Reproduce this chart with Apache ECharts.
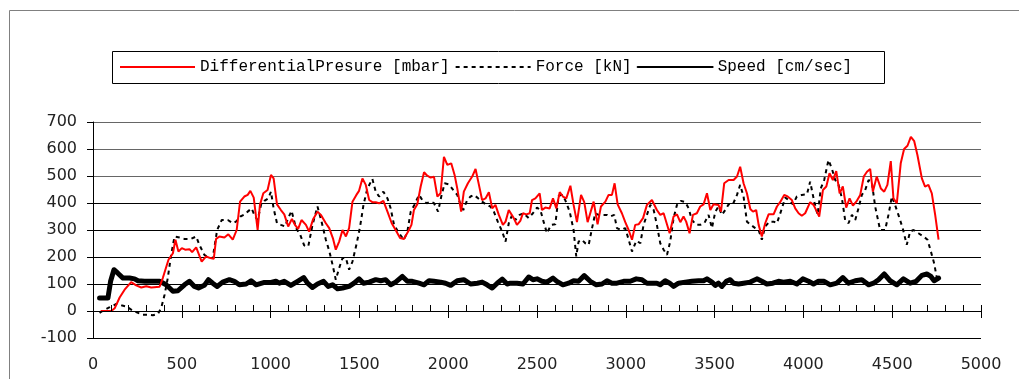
<!DOCTYPE html>
<html>
<head>
<meta charset="utf-8">
<script src="https://cdn.jsdelivr.net/npm/echarts@6/dist/echarts.min.js"></script>
<style>
  html, body { margin: 0; padding: 0; background: #fff; }
  #main { width: 1019px; height: 379px; }
</style>
</head>
<body>
<div id="main"></div>
<script>
var seriesNames = ['DifferentialPresure [mbar]', 'Force [kN]', 'Speed [cm/sec]'];

var dpX = [43,103,122,150,178,215,243,272,300,328,375,393,425,450,464,481,500,519,543,558,
  581,612,637,661,680,693,712,740,762,787,809,828,852,871,886,905,927,940,959,983,
  1002,1017,1036,1058,1077,1099,1120,1137,1155,1174,1199,1217,1240,1264,1283,1311,1330,1352,1367,1386,
  1405,1424,1442,1461,1483,1498,1517,1536,1555,1573,1592,1611,1635,1658,1682,1704,1729,1751,1779,1793,
  1807,1826,1845,1864,1882,1901,1920,1939,1957,1976,1995,2017,2036,2051,2073,2088,2111,2135,2154,2173,
  2191,2210,2229,2248,2266,2285,2308,2323,2341,2369,2387,2406,2421,2440,2459,2472,2491,2515,2528,2547,
  2571,2590,2609,2628,2646,2665,2688,2706,2725,2748,2766,2785,2819,2841,2860,2885,2903,2922,2937,2954,
  2978,2997,3016,3035,3053,3072,3097,3119,3147,3175,3194,3213,3247,3269,3288,3307,3325,3340,3359,3378,
  3400,3419,3438,3457,3476,3494,3522,3536,3554,3579,3607,3626,3644,3663,3682,3701,3716,3734,3748,3766,
  3785,3804,3832,3851,3869,3892,3911,3935,3954,3973,3991,4010,4038,4057,4076,4089,4110,4129,4147,4166,
  4185,4204,4222,4241,4260,4279,4301,4320,4340,4358,4376,4391,4413,4436,4455,4473,4492,4507,4526,4548,
  4567,4586,4605,4624,4642,4667,4685,4704,4723,4742,4761];
var dpY = [0,0,10,50,79,107,95,87,92,87,90,122,190,214,264,220,233,227,229,218,
  236,183,202,196,193,267,276,272,284,264,300,405,424,430,445,420,300,393,436,448,
  504,491,395,374,358,313,341,319,304,337,319,294,341,368,356,325,307,267,227,257,
  300,276,307,405,430,445,491,467,411,403,403,399,408,368,325,300,270,267,300,319,
  374,395,461,514,501,494,497,424,436,571,541,547,504,454,368,442,473,498,526,467,
  411,417,440,380,393,356,319,331,374,344,319,334,362,358,362,411,417,436,374,383,
  380,417,380,440,424,417,464,393,329,430,403,329,405,321,387,405,430,430,473,395,
  362,329,300,264,319,321,344,393,411,374,356,362,288,350,358,329,350,331,288,356,
  362,387,395,436,374,395,393,368,473,485,485,498,534,473,436,378,368,374,319,276,
  325,358,358,387,403,430,424,411,380,362,353,362,403,393,368,350,448,461,510,485,
  518,436,461,383,417,390,408,430,498,516,526,442,498,454,442,467,555,417,399,547,
  600,612,645,629,578,491,461,467,436,356,264];

var forceX = [37,66,94,131,159,187,215,243,281,309,337,365,384,403,421,440,459,487,515,552,
  581,599,627,656,674,699,725,759,787,805,830,849,871,893,912,927,946,965,987,1002,
  1017,1036,1058,1081,1099,1118,1143,1167,1189,1212,1236,1264,1287,1311,1330,1349,1367,1386,1405,1424,
  1442,1461,1485,1504,1523,1545,1573,1592,1611,1635,1658,1676,1695,1723,1751,1770,1789,1811,1836,1854,
  1879,1901,1920,1943,1961,1980,2004,2029,2051,2070,2085,2107,2126,2145,2164,2191,2215,2238,2257,2279,
  2304,2323,2341,2360,2378,2402,2425,2453,2477,2500,2519,2537,2556,2579,2603,2622,2641,2659,2684,2706,
  2721,2734,2753,2772,2791,2810,2828,2847,2871,2894,2913,2935,2950,2973,2997,3016,3035,3059,3082,3100,
  3119,3138,3157,3175,3194,3213,3232,3250,3269,3288,3310,3335,3354,3372,3397,3419,3442,3466,3485,3504,
  3522,3541,3560,3579,3603,3626,3644,3663,3682,3704,3729,3748,3766,3785,3809,3832,3851,3873,3898,3916,
  3941,3963,3991,4020,4038,4061,4080,4098,4117,4141,4160,4179,4198,4217,4235,4254,4273,4292,4310,4329,
  4348,4367,4385,4404,4432,4460,4479,4498,4516,4535,4559,4582,4601,4620,4648,4676,4699,4718,4736,4751];
var forceY = [-7,5,14,26,21,17,5,-4,-14,-14,-16,-11,11,60,122,208,276,272,267,267,
  276,245,208,196,196,300,337,337,325,331,350,356,368,380,350,337,393,408,417,442,
  380,325,319,313,344,371,307,282,243,239,319,387,331,264,223,171,116,159,196,196,
  153,183,251,313,393,454,489,442,424,442,417,380,319,288,264,294,368,395,430,411,
  399,405,399,368,424,473,469,448,430,393,374,411,424,430,420,405,393,387,368,331,
  294,257,325,356,337,356,362,344,362,383,374,331,288,319,321,427,430,411,368,300,
  202,257,264,251,245,307,362,356,356,356,350,356,307,300,307,264,220,260,251,319,
  356,393,374,319,251,227,208,257,344,393,408,403,380,337,319,319,325,356,307,368,
  387,356,374,395,395,430,467,424,331,319,307,300,264,313,331,331,325,368,420,411,
  395,424,430,432,479,405,356,454,485,559,528,485,467,417,337,325,356,337,380,430,
  448,485,479,387,300,300,356,424,393,356,307,245,294,300,288,276,264,220,177,124];

var speedX = [37,84,99,118,140,169,206,234,253,290,328,375,412,450,478,515,543,571,594,627,
  650,674,699,730,768,796,824,862,890,918,965,1002,1030,1049,1077,1114,1152,1186,1208,1236,
  1264,1298,1324,1349,1377,1405,1442,1470,1498,1523,1555,1592,1620,1648,1676,1704,1742,1770,1798,1836,
  1864,1892,1920,1957,1985,2014,2051,2088,2126,2164,2191,2219,2248,2276,2304,2332,2350,2387,2421,2453,
  2477,2500,2528,2556,2590,2612,2646,2678,2706,2734,2766,2800,2834,2866,2894,2922,2950,2988,3025,3059,
  3091,3119,3147,3175,3194,3222,3247,3269,3297,3335,3372,3410,3438,3457,3485,3504,3522,3541,3566,3588,
  3607,3635,3663,3701,3738,3766,3794,3828,3860,3888,3926,3963,3997,4029,4057,4085,4117,4151,4188,4222,
  4254,4292,4329,4367,4395,4423,4455,4488,4526,4563,4601,4635,4667,4695,4718,4736,4761];
var speedY = [48,48,110,153,140,122,122,119,112,110,110,110,97,73,75,97,110,91,85,95,
  116,103,91,107,116,110,97,100,112,97,106,106,110,103,110,95,110,124,103,87,
  100,110,91,97,82,85,91,103,119,103,107,116,112,116,97,107,128,110,110,103,
  97,112,110,107,103,95,112,116,100,103,107,97,85,103,118,100,103,103,100,126,
  116,119,110,107,122,110,97,103,112,110,131,110,97,100,112,103,103,110,110,119,
  116,103,103,103,97,112,103,91,103,107,110,112,112,119,107,95,103,91,110,116,
  103,100,103,107,119,110,100,103,110,107,110,100,119,110,100,110,110,97,103,124,
  103,112,116,97,103,116,137,112,97,119,103,110,132,137,128,112,122];

function pairs(xs, ys) {
  return xs.map(function (x, i) { return [x, ys[i]]; });
}

// plot area; a thin second grid sits just above the y = 0 line and carries the tick marks
var plotLeft = 93, plotRight = 38, plotTop = 122, plotBottom = 41;
var zeroY = 311;

var chart = echarts.init(document.getElementById('main'));
var option = {
  animation: false,
  backgroundColor: '#fff',
  graphic: [{
    type: 'rect',
    z: -10,
    shape: { x: 9.5, y: 10.5, width: 1100, height: 500 },
    style: { fill: 'none', stroke: '#808080', lineWidth: 1 },
    silent: true
  }, {
    type: 'rect',
    z: -10,
    shape: { x: 112.5, y: 51.5, width: 772, height: 32 },
    style: { fill: '#fff', stroke: '#000', lineWidth: 1 },
    silent: true
  }],
  legend: {
    data: seriesNames,
    left: 112,
    top: 51,
    orient: 'horizontal',
    itemWidth: 75,
    itemHeight: 14,
    itemGap: 5,
    padding: [8, 4, 8, 7],
    itemStyle: { opacity: 0 },
    textStyle: { fontFamily: 'Liberation Mono', fontSize: 16, color: '#000' }
  },
  grid: [
    { left: plotLeft, right: plotRight, top: plotTop, bottom: plotBottom },
    { left: plotLeft, right: plotRight, top: zeroY - 6, bottom: 379 - zeroY }
  ],
  xAxis: [{
    type: 'value',
    gridIndex: 0,
    z: 10,
    position: 'bottom',
    min: 0, max: 5000, interval: 500,
    axisLine: { show: true, onZero: true, lineStyle: { color: '#000', width: 1 } },
    axisTick: { show: true, inside: true, length: 6, lineStyle: { color: '#000', width: 1 } },
    minorTick: { show: true, splitNumber: 5, length: 5, lineStyle: { color: '#000', width: 1 } },
    axisLabel: {
      margin: 19, fontSize: 16, color: '#222', fontFamily: 'DejaVu Sans',
      formatter: function (v) { return String(v); }
    },
    splitLine: { show: false }
  }, {
    type: 'value',
    gridIndex: 1,
    z: 10,
    position: 'bottom',
    min: 0, max: 5000, interval: 500,
    axisLine: { show: false, onZero: false },
    axisTick: { show: true, inside: false, length: 7, lineStyle: { color: '#000', width: 1 } },
    axisLabel: { show: false },
    splitLine: { show: true, lineStyle: { color: '#000', width: 1 } },
    minorTick: { show: false, splitNumber: 5 },
    minorSplitLine: { show: true, lineStyle: { color: '#000', width: 1 } }
  }],
  yAxis: [{
    type: 'value',
    gridIndex: 0,
    min: -100, max: 700, interval: 100,
    axisLine: { show: true, onZero: false, lineStyle: { color: '#000', width: 1 } },
    axisTick: { show: true, inside: false, length: 6, lineStyle: { color: '#000' } },
    axisLabel: { margin: 16, fontSize: 16, color: '#222', fontFamily: 'DejaVu Sans' },
    splitLine: {
      show: true,
      lineStyle: {
        color: ['#000', '#000', '#000', '#000', '#000', '#000', '#666', '#666', '#666'],
        width: 1
      }
    }
  }, {
    type: 'value',
    gridIndex: 1,
    min: 0, max: 1,
    axisLine: { show: false, onZero: false },
    axisTick: { show: false },
    axisLabel: { show: false },
    splitLine: { show: false }
  }],
  series: [{
    name: seriesNames[0],
    type: 'line',
    xAxisIndex: 0,
    yAxisIndex: 0,
    data: pairs(dpX, dpY),
    symbol: 'none',
    z: 4,
    lineStyle: { color: '#ff0000', width: 2 },
    itemStyle: { color: '#ff0000' }
  }, {
    name: seriesNames[1],
    type: 'line',
    xAxisIndex: 0,
    yAxisIndex: 0,
    data: pairs(forceX, forceY),
    symbol: 'none',
    z: 3,
    lineStyle: { color: '#000', width: 2, type: [4, 4] },
    itemStyle: { color: '#000' }
  }, {
    name: seriesNames[2],
    type: 'line',
    xAxisIndex: 0,
    yAxisIndex: 0,
    data: pairs(speedX, speedY),
    symbol: 'none',
    z: 2,
    lineStyle: { color: '#000', width: 5, join: 'round', cap: 'round' },
    itemStyle: { color: '#000' }
  }]
};
chart.setOption(option);
window.addEventListener('resize', function () {
  chart.resize();
});
</script>
</body>
</html>
